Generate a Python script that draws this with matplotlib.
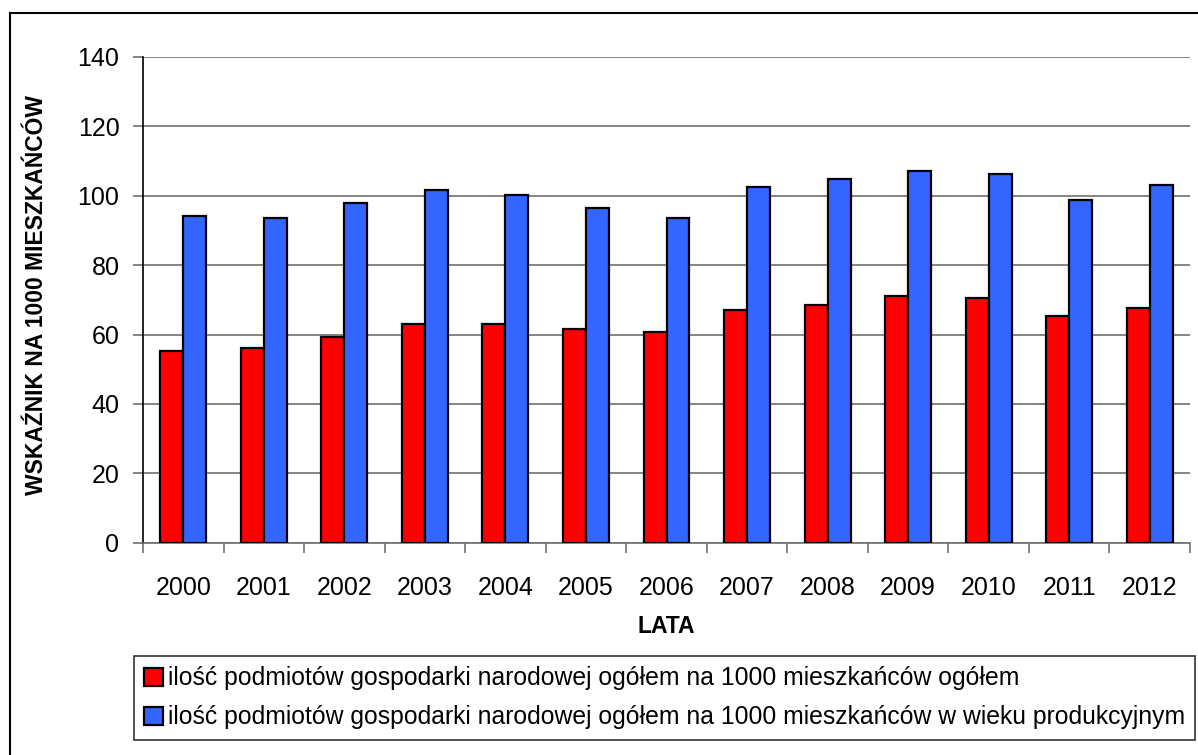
import numpy as np
import matplotlib
matplotlib.use('Agg')
import matplotlib.pyplot as plt
from matplotlib.patches import Rectangle

plt.rcParams['font.family'] = ['Liberation Sans', 'DejaVu Sans']

# Data
years = ['2000', '2001', '2002', '2003', '2004', '2005', '2006',
         '2007', '2008', '2009', '2010', '2011', '2012']
ogolem = [55.4, 56.0, 59.4, 62.9, 62.9, 61.7, 60.6, 67.0, 68.6, 71.0, 70.5, 65.3, 67.6]
produkcyjny = [94.3, 93.7, 97.8, 101.7, 100.2, 96.6, 93.7, 102.4, 104.7, 107.0, 106.4, 98.9, 103.0]

label_red = 'ilość podmiotów gospodarki narodowej ogółem na 1000 mieszkańców ogółem'
label_blue = 'ilość podmiotów gospodarki narodowej ogółem na 1000 mieszkańców w wieku produkcyjnym'

W, H = 1198, 755
fig = plt.figure(figsize=(W / 100, H / 100), dpi=100)
ax = fig.add_axes([143 / W, 1 - 542.7 / H, (1190 - 143) / W, (542.7 - 57) / H])

x = np.arange(len(years))
bw = 0.285
ax.bar(x - bw / 2, ogolem, bw, color='#ff0000', edgecolor='black', linewidth=1.6,
       label=label_red, zorder=3)
ax.bar(x + bw / 2, produkcyjny, bw, color='#3366ff', edgecolor='black', linewidth=1.6,
       label=label_blue, zorder=3)

ax.set_xlim(-0.5, len(years) - 0.5)
ax.set_ylim(0, 140)
ax.set_yticks(np.arange(0, 141, 20))
ax.yaxis.grid(True, color='#707070', linewidth=1.2, zorder=0)

# ticks sit between categories, labels in the middle
ax.set_xticks(np.arange(-0.5, len(years), 1))
ax.set_xticklabels([])
ax.set_xticks(x, minor=True)
ax.set_xticklabels(years, minor=True)
ax.tick_params(axis='x', which='major', length=7, width=1.2, color='#707070', direction='out')
ax.tick_params(axis='x', which='minor', length=0, pad=24, labelsize=18)
ax.tick_params(axis='y', length=7, width=1.2, color='#707070', labelsize=18, pad=10)

for s in ['top', 'right']:
    ax.spines[s].set_visible(False)
ax.spines['left'].set_color('black')
ax.spines['left'].set_linewidth(1.2)
ax.spines['bottom'].set_color('#707070')
ax.spines['bottom'].set_linewidth(1.2)

ax.set_xlabel('LATA', fontsize=16.5, fontweight='bold', labelpad=11)
ax.set_ylabel('WSKAŹNIK NA 1000 MIESZKAŃCÓW', fontsize=16.5, fontweight='bold')
ax.yaxis.set_label_coords(-(143 - 48) / (1190 - 143), 0.51)

leg = fig.legend(loc='upper left', bbox_to_anchor=(134 / W, 1 - 656 / H),
                 fontsize=17.8, frameon=True, fancybox=False, borderaxespad=0,
                 handlelength=0.75, handleheight=0.75, handletextpad=0.2,
                 borderpad=0.42, labelspacing=0.6)
leg.get_frame().set_edgecolor('black')
leg.get_frame().set_linewidth(1.2)

# outer chart frame
fig.patches.append(Rectangle((10 / W, -0.05), 1.1, 1 - 13 / H + 0.05,
                             transform=fig.transFigure, fill=False,
                             edgecolor='black', linewidth=1.5))

fig.savefig('out.png', dpi=100)
